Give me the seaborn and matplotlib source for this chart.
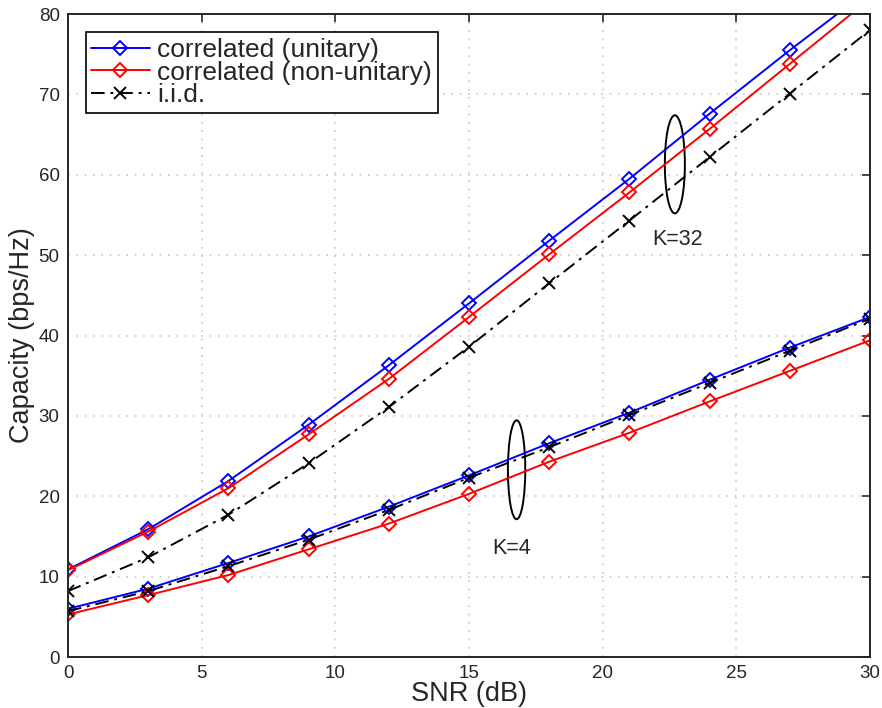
import numpy as np
import pandas as pd
import matplotlib
matplotlib.use("Agg")
import matplotlib.pyplot as plt
from matplotlib.patches import Ellipse
import seaborn as sns

# SNR points (dB)
snr = [0, 3, 6, 9, 12, 15, 18, 21, 24, 27, 30]

# K=32
k32_unitary = [10.9, 15.9, 21.9, 28.9, 36.3, 44.0, 51.8, 59.5, 67.6, 75.5, 83.1]
k32_nonunitary = [10.8, 15.6, 21.0, 27.7, 34.6, 42.3, 50.1, 57.8, 65.7, 73.8, 81.9]
k32_iid = [8.2, 12.4, 17.7, 24.1, 31.1, 38.6, 46.5, 54.3, 62.2, 70.1, 78.0]

# K=4
k4_unitary = [6.0, 8.5, 11.7, 15.0, 18.7, 22.6, 26.6, 30.4, 34.5, 38.5, 42.3]
k4_nonunitary = [5.3, 7.7, 10.2, 13.4, 16.6, 20.3, 24.3, 27.9, 31.8, 35.6, 39.4]
k4_iid = [5.7, 8.2, 11.3, 14.6, 18.3, 22.3, 26.1, 30.1, 34.1, 38.1, 42.1]

labels = ["correlated (unitary)", "correlated (non-unitary)", "i.i.d."]

sns.set_style("white")
plt.rcParams['font.family'] = ['Liberation Sans', 'DejaVu Sans']

fig = plt.figure(figsize=(8.82, 7.08), dpi=100)
ax = fig.add_axes([0.0771, 0.072, 0.9093, 0.9082])

styles = {
    "unitary": dict(color="blue", marker="D", markersize=7.5, linestyle="-"),
    "nonunitary": dict(color="red", marker="D", markersize=7.5, linestyle="-"),
    "iid": dict(color="black", marker="x", markersize=9, linestyle=(0, (7, 3, 1.5, 3))),
}

series = [
    (k32_unitary, "unitary", labels[0]),
    (k32_nonunitary, "nonunitary", labels[1]),
    (k32_iid, "iid", labels[2]),
    (k4_unitary, "unitary", None),
    (k4_nonunitary, "nonunitary", None),
    (k4_iid, "iid", None),
]

for vals, key, lab in series:
    st = styles[key]
    sns.lineplot(x=snr, y=vals, ax=ax, color=st["color"], linestyle=st["linestyle"],
                 marker=st["marker"], markersize=st["markersize"], markerfacecolor="none",
                 markeredgecolor=st["color"], markeredgewidth=1.4, linewidth=1.4,
                 label=lab, legend=False, clip_on=True)

# ellipses and annotations
ax.add_patch(Ellipse((22.7, 61.3), 0.75, 12.2, fill=False, edgecolor="black", linewidth=1.4))
ax.add_patch(Ellipse((16.78, 23.3), 0.65, 12.3, fill=False, edgecolor="black", linewidth=1.4))
ax.text(22.8, 51.9, "K=32", fontsize=15.5, ha="center", va="center")
ax.text(16.6, 13.5, "K=4", fontsize=15.5, ha="center", va="center")

ax.set_xlim(0, 30)
ax.set_ylim(0, 80)
ax.set_xticks(np.arange(0, 31, 5))
ax.set_yticks(np.arange(0, 81, 10))
ax.set_xlabel("SNR (dB)", fontsize=19.5, labelpad=-1)
ax.set_ylabel("Capacity (bps/Hz)", fontsize=19.5, labelpad=3)
ax.tick_params(direction="in", length=6, width=1.2, labelsize=13.5, colors="#262626",
               top=True, right=True, pad=6)
for sp in ax.spines.values():
    sp.set_color("#262626")
    sp.set_linewidth(1.4)
ax.grid(True, linestyle=(0, (1, 4)), color="#c8c8c8", linewidth=1.2)

h, l = ax.get_legend_handles_labels()
leg = ax.legend(h, l, loc="upper left", bbox_to_anchor=(0.022, 0.972), borderaxespad=0,
                fontsize=19, frameon=True, fancybox=False, edgecolor="black",
                labelspacing=-0.05, handlelength=2.2, handletextpad=0.3, borderpad=0.22)
leg.get_frame().set_linewidth(1.2)
leg.get_frame().set_alpha(1)

fig.savefig("out.png", dpi=100)
